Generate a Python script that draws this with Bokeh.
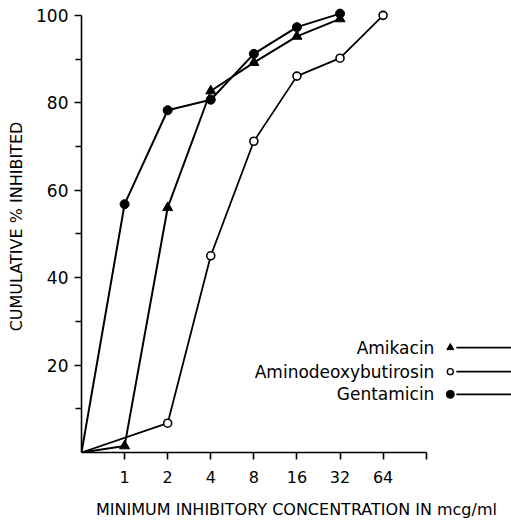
from bokeh.plotting import figure
from bokeh.models import FixedTicker, Range1d
from bokeh.embed import file_html
from bokeh.resources import INLINE
from bokeh.core.properties import value

# ---- data (x positions are ordinal steps on the doubling-dilution axis; 0 = origin) ----
conc_labels = ["1", "2", "4", "8", "16", "32", "64"]
conc_pos = [1, 2, 3, 4, 5, 6, 7]

amikacin_pos = [0, 1, 2, 3, 4, 5, 6]
amikacin_pct = [0, 1.5, 56, 82.7, 89.2, 95.2, 99.2]

adb_pos = [0, 2, 3, 4, 5, 6, 7]
adb_pct = [0, 6.7, 45, 71.2, 86.1, 90.2, 100]

gent_pos = [0, 1, 2, 3, 4, 5, 6]
gent_pct = [0, 56.8, 78.3, 80.7, 91.2, 97.3, 100.4]

series_names = ["Amikacin", "Aminodeoxybutirosin", "Gentamicin"]
y_major = [20, 40, 60, 80, 100]
y_minor = [10, 30, 50, 70, 90]

FONT = "DejaVu Sans"

p = figure(width=511, height=523, output_backend="svg", toolbar_location=None,
           x_range=Range1d(0, 9.98), y_range=Range1d(0, 103.4),
           min_border_left=81, min_border_right=0, min_border_top=0, min_border_bottom=71)
p.outline_line_color = None
p.grid.visible = False
p.background_fill_color = "white"
p.border_fill_color = "white"

# x axis
xa = p.xaxis[0]
xa.ticker = FixedTicker(ticks=conc_pos + [8], minor_ticks=[])
overrides = {pos: lab for pos, lab in zip(conc_pos, conc_labels)}
overrides[8] = ""
xa.major_label_overrides = overrides
xa.bounds = (0, 8)
xa.axis_line_width = 1.6
xa.axis_line_color = "black"
xa.major_tick_line_width = 1.6
xa.major_tick_line_color = "black"
xa.major_tick_out = 7
xa.major_tick_in = 0
xa.minor_tick_line_color = None
xa.major_label_text_font = FONT
xa.major_label_text_font_size = "16px"
xa.major_label_text_color = "black"
xa.major_label_standoff = 11
xa.axis_label = "MINIMUM INHIBITORY CONCENTRATION IN mcg/ml"
xa.axis_label_text_font = FONT
xa.axis_label_text_font_size = "16px"
xa.axis_label_text_font_style = "normal"
xa.axis_label_text_color = "black"
xa.axis_label_standoff = 14

# y axis
ya = p.yaxis[0]
ya.ticker = FixedTicker(ticks=y_major, minor_ticks=y_minor)
ya.bounds = (0, 100)
ya.axis_line_width = 1.6
ya.axis_line_color = "black"
ya.major_tick_line_width = 1.6
ya.major_tick_line_color = "black"
ya.minor_tick_line_width = 1.6
ya.minor_tick_line_color = "black"
ya.major_tick_out = 7
ya.major_tick_in = 0
ya.minor_tick_out = 6
ya.minor_tick_in = 0
ya.major_label_text_font = FONT
ya.major_label_text_font_size = "17px"
ya.major_label_text_color = "black"
ya.major_label_standoff = 6
ya.axis_label = "CUMULATIVE % INHIBITED"
ya.axis_label_text_font = FONT
ya.axis_label_text_font_size = "16px"
ya.axis_label_text_font_style = "normal"
ya.axis_label_text_color = "black"
ya.axis_label_standoff = 7

LW = 2.0
# lines
p.line(gent_pos, gent_pct, line_color="black", line_width=LW)
p.line(amikacin_pos, amikacin_pct, line_color="black", line_width=LW)
p.line(adb_pos, adb_pct, line_color="black", line_width=1.8)

# markers (skip origin)
p.scatter(gent_pos[1:], gent_pct[1:], marker="circle", size=9,
          fill_color="black", line_color="black")
p.scatter(amikacin_pos[1:], amikacin_pct[1:], marker="triangle", size=10,
          fill_color="black", line_color="black")
p.scatter(adb_pos[1:], adb_pct[1:], marker="circle", size=8,
          fill_color="white", line_color="black", line_width=1.6)

# legend (manual: label, marker, line)
LEG_TEXT_X = 8.19
LEG_MARK_X = 8.56
LEG_LINE_X0 = 8.7
LEG_LINE_X1 = 9.98
LEG_Y = [24.0, 18.5, 13.3]
p.text(x=[LEG_TEXT_X] * 3, y=LEG_Y, text=series_names,
       text_font=value(FONT), text_font_size="17px", text_align="right",
       text_baseline="middle", text_color="black")
p.segment(x0=[LEG_LINE_X0] * 3, y0=LEG_Y, x1=[LEG_LINE_X1] * 3, y1=LEG_Y,
          line_color="black", line_width=1.8)
p.scatter([LEG_MARK_X], [LEG_Y[0]], marker="triangle", size=7,
          fill_color="black", line_color="black")
p.scatter([LEG_MARK_X], [LEG_Y[1]], marker="circle", size=6,
          fill_color="white", line_color="black", line_width=1.4)
p.scatter([LEG_MARK_X], [LEG_Y[2]], marker="circle", size=8,
          fill_color="black", line_color="black")

open("out.html", "w").write(file_html(p, INLINE))
